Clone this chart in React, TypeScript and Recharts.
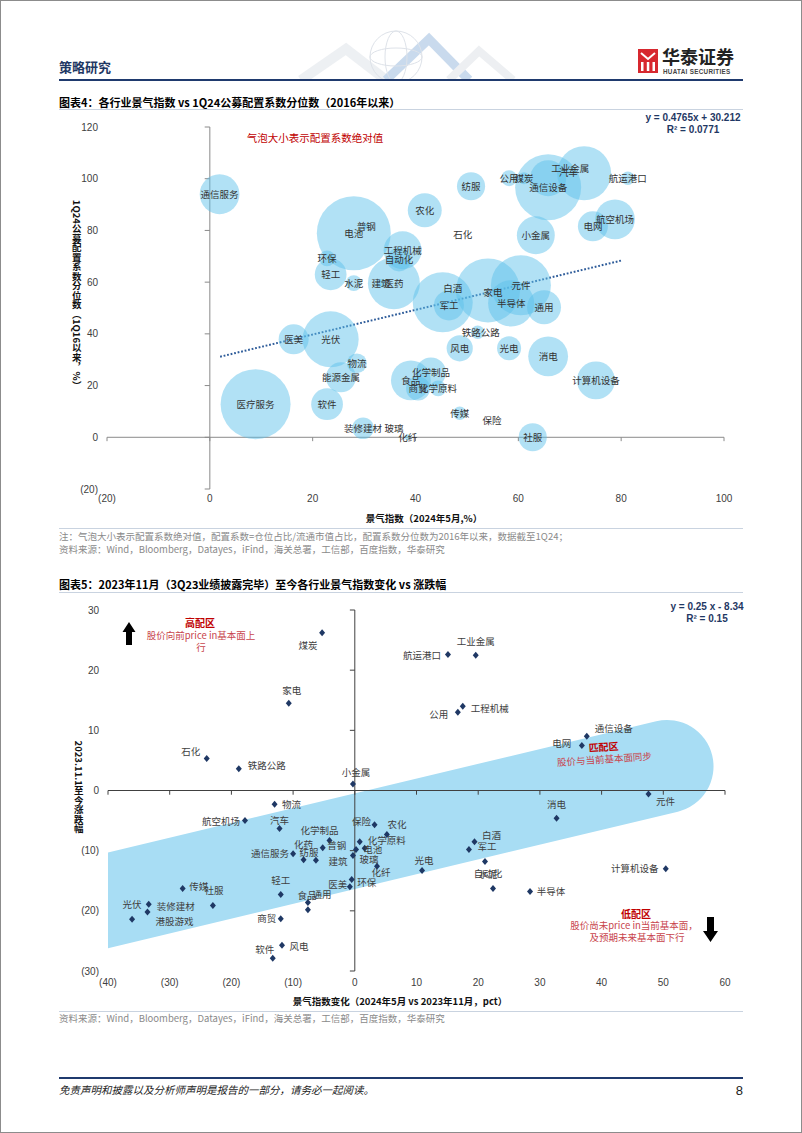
import React from 'react';
import { ScatterChart, Scatter, XAxis, YAxis, ZAxis, ReferenceLine, ReferenceArea } from 'recharts';

const FONT_CJK = '"Noto Sans CJK SC", "Noto Sans", sans-serif';
const FONT_LATIN = '"Liberation Sans", Arial, "Noto Sans CJK SC", sans-serif';

// ---------- Chart 4: prosperity index vs 1Q24 allocation percentile ----------
const c1Names = ['通信服务', '电池', '普钢', '环保', '轻工', '水泥', '医药', '建筑', '工程机械', '自动化', '农化', '纺服', '石化', '公用', '煤炭', '通信设备', '汽车', '工业金属', '航运港口', '航空机场', '电网', '小金属', '白酒', '军工', '家电', '元件', '半导体', '通用', '铁路公路', '风电', '光电', '消电', '化学制品', '食品', '商贸', '化学原料', '计算机设备', '传媒', '保险', '社服', '化纤', '医疗服务', '医美', '光伏', '物流', '能源金属', '软件', '装修建材', '玻璃'];
const c1Prosperity = [1.9, 28.0, 30.4, 22.8, 23.5, 28.0, 35.8, 33.3, 37.5, 36.8, 41.8, 50.8, 49.2, 58.2, 61.1, 65.8, 65.8, 72.8, 81.3, 78.8, 74.5, 63.4, 45.3, 46.5, 54.1, 60.5, 58.6, 65.0, 52.1, 48.6, 58.2, 65.8, 43.0, 39.1, 40.5, 44.4, 75.1, 48.6, 54.9, 62.8, 38.5, 8.9, 16.3, 23.5, 28.6, 25.5, 22.8, 29.8, 35.8];
const c1Percentile = [94.0, 78.9, 81.6, 69.2, 63.0, 59.6, 59.6, 59.6, 72.3, 68.8, 87.8, 97.1, 78.5, 100.2, 100.2, 96.7, 100.2, 102.1, 100.2, 84.3, 81.6, 78.1, 52.2, 51.0, 56.8, 58.8, 51.8, 50.3, 40.6, 34.4, 34.4, 31.3, 25.1, 22.0, 18.9, 18.9, 22.0, 9.3, 6.6, 0.0, 0.0, 12.8, 37.9, 37.9, 28.6, 23.2, 12.8, 3.5, 3.5];
const c1Coef = [0.44, 1.52, 0.01, 0.07, 0.28, 0.07, 0.75, 0.02, 0.40, 0.16, 0.32, 0.22, 0, 0.07, 0.04, 1.21, 0.36, 0.81, 0.05, 0.44, 0.25, 0.40, 1.00, 0.25, 1.14, 1.00, 0.59, 0.32, 0.05, 0.19, 0.16, 0.44, 0.25, 0.44, 0.16, 0.07, 0.40, 0.05, 0, 0.22, 0.01, 1.36, 0.25, 0.87, 0.11, 0.25, 0.28, 0.13, 0];
const c1XTicks = [-20, 0, 20, 40, 60, 80, 100];
const c1YTicks = [-20, 0, 20, 40, 60, 80, 100, 120];
const c1TrendSlope = 0.4765;
const c1TrendIntercept = 30.212;
const c1TrendRange = [2, 80];

// label nudges (pixels) – presentation only
const c1LabelNudge: Record<string, [number, number]> = {
  白酒: [10, -14], 家电: [5, 2], 工业金属: [-14, -5], 汽车: [20, -6], 铁路公路: [3, 0],
};

// ---------- Chart 5: change of prosperity vs return since Nov 2023 ----------
const c2Names = ['煤炭', '家电', '石化', '铁路公路', '小金属', '航运港口', '工业金属', '公用', '工程机械', '通信设备', '电网', '元件', '物流', '航空机场', '汽车', '保险', '农化', '化学制品', '普钢', '化学原料', '电池', '玻璃', '建筑', '通信服务', '化药', '纺服', '化纤', '环保', '医美', '消电', '白酒', '军工', '光电', '自动化', '水泥', '半导体', '计算机设备', '轻工', '食品', '通用', '商贸', '风电', '软件', '传媒', '社服', '装修建材', '港股游戏', '光伏'];
const c2Change = [-5.3, -10.7, -24.0, -18.8, -0.3, 15.1, 19.6, 16.7, 17.5, 37.6, 36.8, 47.6, -13.0, -17.8, -12.2, 3.2, 5.2, -4.1, -5.2, 0.8, 1.6, 0.2, -0.3, -10.0, -8.3, -6.3, 3.6, -0.5, -0.8, 32.7, 19.4, 18.5, 10.9, 21.1, 22.4, 28.4, 50.4, -12.0, -7.6, -7.6, -12.0, -11.8, -13.3, -27.9, -23.0, -33.4, -33.6, -36.1];
const c2Return = [26.2, 14.5, 5.3, 3.6, 1.1, 22.6, 22.5, 13.0, 14.0, 9.0, 7.5, -0.6, -2.3, -5.0, -6.3, -5.7, -7.3, -8.3, -9.5, -8.5, -9.6, -9.8, -10.8, -10.5, -11.5, -11.6, -12.6, -14.8, -16.0, -4.6, -8.5, -9.8, -13.3, -11.8, -16.3, -16.8, -13.0, -17.3, -18.6, -19.8, -21.3, -25.7, -27.9, -16.3, -19.1, -18.9, -20.2, -21.4];
const c2XTicks = [-40, -30, -20, -10, 0, 10, 20, 30, 40, 50, 60];
const c2YTicks = [-30, -20, -10, 0, 10, 20, 30];
const c2XDomain = [-40, 60];
const c2YDomain = [-30, 30];
// "匹配区" band (data units)
const c2BandLeftX = -40;
const c2BandLeftTop = -10.3;
const c2BandLeftBottom = -26.2;
const c2BandCapX = 50.6;
const c2BandCapY = 4.0;

const c2LabelNudge: Record<string, [number, number]> = {
  煤炭: [-14, 12], 家电: [3, -13], 石化: [-16, -8], 铁路公路: [28, -4], 小金属: [3, -12],
  航运港口: [-26, 0], 工业金属: [0, -14], 公用: [-19, 2], 工程机械: [27, 2], 通信设备: [27, -8],
  电网: [-20, -2], 元件: [17, 7], 物流: [17, 0], 航空机场: [-24, 0], 汽车: [0, -8],
  保险: [-13, -4], 农化: [10, -10], 化学制品: [-10, -10], 普钢: [14, -3], 化学原料: [27, -2],
  电池: [8, 1], 玻璃: [13, 10], 建筑: [-15, 6], 通信服务: [-23, -1], 化药: [0, -16],
  纺服: [-7, -8], 化纤: [4, 6], 环保: [15, 2], 医美: [-12, -3], 消电: [0, -14],
  白酒: [17, -7], 军工: [18, -3], 光电: [2, -11], 自动化: [3, 12], 水泥: [-5, -15],
  半导体: [21, -1], 计算机设备: [-31, -1], 轻工: [0, -15], 食品: [-1, -7], 通用: [14, -16],
  商贸: [-14, -1], 风电: [17, 1], 软件: [-8, -9], 传媒: [16, -3], 社服: [1, -15],
  装修建材: [27, 2], 港股游戏: [27, 9], 光伏: [0, -15],
};

const fmt = (v: number) => (v < 0 ? `(${Math.abs(v)})` : String(v));
const tickStyle = { fontSize: 10, fill: '#404040', fontFamily: FONT_LATIN };

const Bubble = (p: any) => {
  let r = 0;
  if (typeof p.size === 'number') r = Math.sqrt(Math.max(p.size, 0) / Math.PI);
  else if (typeof p.width === 'number') r = p.width / 2;
  if (!r || r < 0.8) return <g />;
  return <circle cx={p.cx} cy={p.cy} r={r} fill="#5CC0EA" fillOpacity={0.48} />;
};

const makeLabel = (nudge: Record<string, [number, number]>, color: string) => (p: any) => {
  const name = p.payload?.name ?? '';
  const [dx, dy] = nudge[name] || [0, 0];
  return (
    <text x={p.cx + dx} y={p.cy + dy} textAnchor="middle" dominantBaseline="central"
      fontSize={9.5} fill={color} fontFamily={FONT_CJK}>{name}</text>
  );
};

const Diamond = (p: any) => (
  <polygon points={`${p.cx},${p.cy - 3.5} ${p.cx + 3},${p.cy} ${p.cx},${p.cy + 3.5} ${p.cx - 3},${p.cy}`} fill="#1F3864" />
);

const BandShape = (p: any) => {
  const { x, y, width, height } = p;
  const sx = (v: number) => x + ((v - c2XDomain[0]) / (c2XDomain[1] - c2XDomain[0])) * width;
  const sy = (v: number) => y + ((c2YDomain[1] - v) / (c2YDomain[1] - c2YDomain[0])) * height;
  const top = sy(c2BandLeftTop);
  const bot = sy(c2BandLeftBottom);
  const p0x = sx(c2BandLeftX);
  const p0y = (top + bot) / 2;
  const vh = (bot - top) / 2;
  const p1x = sx(c2BandCapX);
  const p1y = sy(c2BandCapY);
  const len = Math.hypot(p1x - p0x, p1y - p0y);
  const ux = (p1x - p0x) / len;
  const uy = (p1y - p0y) / len;
  const r = vh * ux;
  const nx = uy, ny = -ux;
  const Ux = p1x + nx * r, Uy = p1y + ny * r;
  const Lx = p1x - nx * r, Ly = p1y - ny * r;
  const ULy = Uy + (p0x - Ux) * uy / ux;
  const LLy = Ly + (p0x - Lx) * uy / ux;
  const d = `M${p0x},${ULy} L${Ux},${Uy} A${r},${r} 0 0 1 ${Lx},${Ly} L${p0x},${LLy} Z`;
  return <path d={d} fill="#A8DDF4" />;
};

type TProps = { x: number; y: number; anchor?: 'start' | 'middle' | 'end'; style?: React.CSSProperties; children: React.ReactNode };
const T = ({ x, y, anchor = 'start', style, children }: TProps) => {
  const tx = anchor === 'start' ? '0' : anchor === 'middle' ? '-50%' : '-100%';
  return (
    <div style={{ position: 'absolute', left: x, top: y, transform: `translate(${tx}, -50%)`, whiteSpace: 'nowrap', lineHeight: 1, fontFamily: FONT_CJK, ...style }}>
      {children}
    </div>
  );
};

const HLine = ({ y, h = 1, color }: { y: number; h?: number; color: string }) => (
  <div style={{ position: 'absolute', left: 58, top: y, width: 684, height: h, background: color }} />
);

export default function App() {
  const c1Data = c1Names.map((name, i) => ({ name, x: c1Prosperity[i], y: c1Percentile[i], z: c1Coef[i] }));
  const c2Data = c2Names.map((name, i) => ({ name, x: c2Change[i], y: c2Return[i] }));
  const trend = c1TrendRange.map((xv) => ({ x: xv, y: c1TrendSlope * xv + c1TrendIntercept }));

  return (
    <div style={{ position: 'absolute', left: 0, top: 0, width: 802, height: 1133, boxSizing: 'border-box', border: '1px solid #8c8c8c', background: '#fff', overflow: 'hidden', fontFamily: FONT_CJK }}>
      {/* header decoration */}
      <svg style={{ position: 'absolute', left: 0, top: 0 }} width={802} height={80}>
        <g opacity={0.55}>
          <polyline points="300,79 345,48 385,79" stroke="#dfe4ea" strokeWidth={10} fill="none" />
          <polyline points="385,79 428,38 468,79" stroke="#9dbde0" strokeWidth={9} fill="none" />
          <polyline points="448,79 478,50 512,79" stroke="#dfe3e8" strokeWidth={8} fill="none" />
          <circle cx={395} cy={56} r={26} fill="none" stroke="#c4ccd8" strokeWidth={1} />
          <ellipse cx={395} cy={56} rx={11} ry={26} fill="none" stroke="#c4ccd8" strokeWidth={1} />
          <ellipse cx={395} cy={56} rx={26} ry={9} fill="none" stroke="#c4ccd8" strokeWidth={1} />
        </g>
        {/* logo icon */}
        <rect x={637} y={48} width={20} height={24} fill="#D7282F" />
        <polyline points="640,52 647,58 654,52" stroke="#fff" strokeWidth={2} fill="none" />
        <rect x={640} y={61} width={2.5} height={9} fill="#fff" />
        <rect x={645.8} y={61} width={2.5} height={9} fill="#fff" />
        <rect x={651.5} y={61} width={2.5} height={9} fill="#fff" />
      </svg>
      <T x={58} y={65} style={{ fontSize: 13, fontWeight: 700, color: '#1F3864' }}>策略研究</T>
      <T x={661} y={55} style={{ fontSize: 18, fontWeight: 700, color: '#222', lineHeight: 1 }}>华泰证券</T>
      <T x={662} y={70.5} style={{ fontSize: 6.3, fontWeight: 700, color: '#444', fontFamily: FONT_LATIN, letterSpacing: 0.3 }}>HUATAI SECURITIES</T>
      <HLine y={78} h={2} color="#1F3A6E" />

      {/* ---------- Chart 4 ---------- */}
      <T x={58} y={101} style={{ fontSize: 11, fontWeight: 700, color: '#000' }}>图表4：各行业景气指数 vs 1Q24公募配置系数分位数（2016年以来）</T>
      <HLine y={108} color="#C9D3E0" />

      <div style={{ position: 'absolute', left: 0, top: 0 }}>
        <ScatterChart width={802} height={530} margin={{ top: 126, right: 79, bottom: 22, left: 66 }}>
          <XAxis type="number" dataKey="x" domain={[-20, 100]} ticks={c1XTicks} interval={0} tickFormatter={fmt}
            axisLine={false} tickLine={false} tickSize={6} tickMargin={0} height={20} tick={tickStyle} />
          <YAxis type="number" dataKey="y" domain={[-20, 120]} ticks={c1YTicks} interval={0} tickFormatter={fmt}
            axisLine={false} tickLine={false} tickSize={6} tickMargin={3} width={40} tick={tickStyle} />
          <ZAxis type="number" dataKey="z" domain={[0, 2]} range={[0, 1800 * Math.PI]} />
          <ReferenceLine x={0} stroke="#8a8a8a" strokeWidth={1} />
          <ReferenceLine y={0} stroke="#8a8a8a" strokeWidth={1} />
          {c1YTicks.map((t) => (
            <ReferenceLine key={'c1y' + t} segment={[{ x: -1, y: t }, { x: 0, y: t }]} stroke="#8a8a8a" />
          ))}
          {c1XTicks.map((t) => (
            <ReferenceLine key={'c1x' + t} segment={[{ x: t, y: -1.5 }, { x: t, y: 0 }]} stroke="#8a8a8a" />
          ))}
          <Scatter data={c1Data} shape={Bubble} isAnimationActive={false} />
          <ReferenceLine segment={trend} stroke="#2E5C9A" strokeWidth={2} strokeDasharray="1.8 1.8" />
          <Scatter data={c1Data} shape={makeLabel(c1LabelNudge, '#333')} isAnimationActive={false} />
        </ScatterChart>
      </div>
      <T x={692} y={117} anchor="middle" style={{ fontSize: 10, fontWeight: 700, color: '#1F3864', fontFamily: FONT_LATIN }}>y = 0.4765x + 30.212</T>
      <T x={692} y={129} anchor="middle" style={{ fontSize: 10, fontWeight: 700, color: '#1F3864', fontFamily: FONT_LATIN }}>R² = 0.0771</T>
      <T x={314} y={137} anchor="middle" style={{ fontSize: 10.5, color: '#C00000' }}>气泡大小表示配置系数绝对值</T>
      <div style={{ position: 'absolute', left: 75, top: 294, transform: 'translate(-50%, -50%)', writingMode: 'vertical-rl', textOrientation: 'mixed', fontSize: 9.5, fontWeight: 700, lineHeight: 1, whiteSpace: 'nowrap', color: '#111', fontFamily: FONT_CJK }}>
        1Q24公募配置系数分位数（1Q16以来，%）
      </div>
      <T x={423} y={518} anchor="middle" style={{ fontSize: 9.5, fontWeight: 700, color: '#111' }}>景气指数（2024年5月,%）</T>

      <HLine y={527} color="#C9D3E0" />
      <T x={58} y={536} style={{ fontSize: 9.5, color: '#8a8a8a' }}>注：气泡大小表示配置系数绝对值，配置系数=仓位占比/流通市值占比，配置系数分位数为2016年以来，数据截至1Q24；</T>
      <T x={58} y={549} style={{ fontSize: 9.5, color: '#8a8a8a' }}>资料来源：Wind，Bloomberg，Datayes，iFind，海关总署，工信部，百度指数，华泰研究</T>

      {/* ---------- Chart 5 ---------- */}
      <T x={58} y={583} style={{ fontSize: 11, fontWeight: 700, color: '#000' }}>图表5：2023年11月（3Q23业绩披露完毕）至今各行业景气指数变化 vs 涨跌幅</T>
      <HLine y={591} color="#C9D3E0" />

      <div style={{ position: 'absolute', left: 0, top: 560 }}>
        <ScatterChart width={802} height={460} margin={{ top: 49, right: 78, bottom: 30, left: 67 }}>
          <XAxis type="number" dataKey="x" domain={c2XDomain} ticks={c2XTicks} interval={0} tickFormatter={fmt}
            axisLine={false} tickLine={false} tickSize={6} tickMargin={2} height={20} tick={tickStyle} />
          <YAxis type="number" dataKey="y" domain={c2YDomain} ticks={c2YTicks} interval={0} tickFormatter={fmt}
            axisLine={false} tickLine={false} tickSize={6} tickMargin={3} width={40} tick={tickStyle} />
          <ReferenceArea x1={c2XDomain[0]} x2={c2XDomain[1]} y1={c2YDomain[0]} y2={c2YDomain[1]} shape={BandShape} />
          <ReferenceLine x={0} stroke="#404040" strokeWidth={1} />
          <ReferenceLine y={0} stroke="#404040" strokeWidth={1} />
          {c2YTicks.map((t) => (
            <ReferenceLine key={'c2y' + t} segment={[{ x: -0.8, y: t }, { x: 0, y: t }]} stroke="#404040" />
          ))}
          {c2XTicks.map((t) => (
            <ReferenceLine key={'c2x' + t} segment={[{ x: t, y: -0.7 }, { x: t, y: 0 }]} stroke="#404040" />
          ))}
          <Scatter data={c2Data} shape={Diamond} isAnimationActive={false} />
          <Scatter data={c2Data} shape={makeLabel(c2LabelNudge, '#404040')} isAnimationActive={false} />
        </ScatterChart>
      </div>

      <T x={706} y={606} anchor="middle" style={{ fontSize: 10, fontWeight: 700, color: '#1F3864', fontFamily: FONT_LATIN }}>y = 0.25 x - 8.34</T>
      <T x={706} y={618} anchor="middle" style={{ fontSize: 10, fontWeight: 700, color: '#1F3864', fontFamily: FONT_LATIN }}>R² = 0.15</T>

      <svg style={{ position: 'absolute', left: 0, top: 0 }} width={802} height={1133}>
        <polygon points="128,621 134.5,631 131,631 131,644 125,644 125,631 121.5,631" fill="#000" />
        <polygon points="706,916 713,916 713,930 717,930 709.5,941 702,930 706,930" fill="#000" />
      </svg>

      <T x={199} y={622} anchor="middle" style={{ fontSize: 10, fontWeight: 700, color: '#C00000' }}>高配区</T>
      <T x={200} y={635} anchor="middle" style={{ fontSize: 9.5, color: '#C8444C' }}>股价向前price in基本面上</T>
      <T x={200} y={647} anchor="middle" style={{ fontSize: 9.5, color: '#C8444C' }}>行</T>

      <div style={{ position: 'absolute', left: 603, top: 752, transform: 'translate(-50%, -50%) rotate(-4deg)', textAlign: 'center', lineHeight: 1.25, whiteSpace: 'nowrap', fontFamily: FONT_CJK }}>
        <div style={{ fontSize: 10, fontWeight: 700, color: '#C00000' }}>匹配区</div>
        <div style={{ fontSize: 9.5, color: '#C8444C' }}>股价与当前基本面同步</div>
      </div>

      <T x={635} y={913} anchor="middle" style={{ fontSize: 10, fontWeight: 700, color: '#C00000' }}>低配区</T>
      <T x={633} y={925} anchor="middle" style={{ fontSize: 9.5, color: '#C8444C' }}>股价尚未price in当前基本面，</T>
      <T x={636} y={937} anchor="middle" style={{ fontSize: 9.5, color: '#C8444C' }}>及预期未来基本面下行</T>

      <div style={{ position: 'absolute', left: 77, top: 786, transform: 'translate(-50%, -50%)', writingMode: 'vertical-rl', textOrientation: 'mixed', fontSize: 9.5, fontWeight: 700, lineHeight: 1, whiteSpace: 'nowrap', color: '#111', fontFamily: FONT_CJK }}>
        2023.11.1至今涨跌幅
      </div>
      <T x={399} y={1001} anchor="middle" style={{ fontSize: 9.5, fontWeight: 700, color: '#111' }}>景气指数变化（2024年5月 vs 2023年11月，pct）</T>

      <HLine y={1010} color="#C9D3E0" />
      <T x={58} y={1018} style={{ fontSize: 9.5, color: '#8a8a8a' }}>资料来源：Wind，Bloomberg，Datayes，iFind，海关总署，工信部，百度指数，华泰研究</T>

      {/* footer */}
      <HLine y={1076} h={2} color="#1F3A6E" />
      <T x={58} y={1089} style={{ fontSize: 10.5, fontStyle: 'italic', color: '#222' }}>免责声明和披露以及分析师声明是报告的一部分，请务必一起阅读。</T>
      <T x={742} y={1089} anchor="end" style={{ fontSize: 13, color: '#222', fontFamily: FONT_LATIN }}>8</T>
    </div>
  );
}
